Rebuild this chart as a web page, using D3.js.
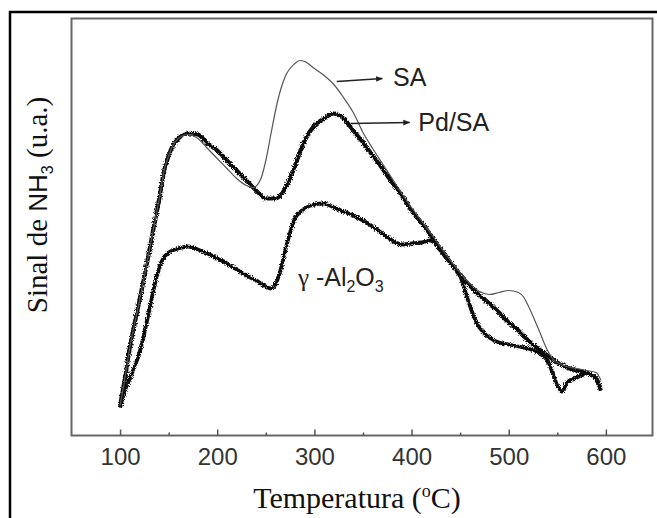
<!DOCTYPE html>
<html>
<head>
<meta charset="utf-8">
<script src="https://cdn.jsdelivr.net/npm/d3@7"></script>
<style>
  body { margin: 0; background: #fff; }
  svg { display: block; }
</style>
</head>
<body>
<svg id="chart" width="657" height="518"></svg>
<script>
// NH3-TPD curves, signal in arbitrary units (u.a.)
const W = 657, H = 518;

const majorTicks = [100, 200, 300, 400, 500, 600];
const minorTicks = [150, 250, 350, 450, 550];

// SA (thin line)
const saTemp = [100, 105, 110, 115, 125, 135, 140, 145, 150, 160, 170, 180, 190, 200, 210, 220, 230, 237, 245, 250, 255, 260, 265, 270, 280, 285, 290, 300, 310, 320, 330, 340, 350, 360, 370, 380, 390, 400, 420, 440, 460, 470, 480, 490, 500, 510, 515, 520, 530, 540, 545, 550, 560, 570, 580, 590, 595];
const saSignal = [30, 57, 88, 112, 159, 210, 235, 263, 280, 297, 301, 297, 287, 277, 267, 257, 250, 248, 257, 275, 300, 325, 345, 359, 372, 375, 374, 367, 360, 351, 338, 323, 303, 287, 272, 257, 242, 228, 202, 175, 152, 144, 141, 143, 145, 143, 139, 130, 108, 85, 77, 73, 69, 67, 65, 63, 55];

// Pd/SA (thick noisy line)
const pdTemp = [100, 105, 110, 115, 125, 135, 140, 145, 150, 160, 170, 180, 190, 200, 210, 220, 230, 240, 250, 260, 270, 280, 290, 300, 310, 320, 330, 340, 350, 360, 370, 380, 390, 400, 410, 420, 430, 440, 450, 460, 470, 480, 490, 500, 510, 520, 530, 540, 550, 560, 570, 580, 590, 595];
const pdSignal = [30, 57, 88, 112, 159, 210, 235, 263, 280, 297, 302, 301, 292, 285, 275, 265, 255, 245, 237, 237, 247, 270, 295, 310, 317, 322, 317, 305, 293, 280, 267, 253, 240, 225, 213, 200, 185, 173, 160, 150, 140, 132, 123, 113, 105, 95, 87, 80, 73, 68, 65, 63, 57, 45];

// gamma-Al2O3 (thick noisy line)
const alTemp = [100, 105, 110, 120, 130, 135, 140, 145, 150, 160, 170, 180, 190, 200, 210, 220, 230, 240, 250, 255, 260, 265, 270, 275, 280, 290, 300, 310, 320, 330, 340, 350, 360, 370, 380, 390, 400, 410, 420, 430, 440, 450, 455, 460, 465, 470, 475, 480, 490, 500, 510, 520, 530, 540, 545, 550, 555, 560, 570, 580, 590, 595];
const alSignal = [28, 45, 57, 83, 125, 148, 167, 178, 183, 187, 189, 186, 182, 177, 172, 166, 160, 155, 149, 147, 151, 165, 185, 203, 217, 227, 231, 232, 228, 224, 220, 215, 209, 202, 195, 191, 192, 193, 195, 187, 173, 160, 145, 130, 117, 108, 102, 98, 93, 91, 89, 87, 83, 75, 63, 50, 44, 53, 58, 62, 57, 45];

// plot frame
const X0 = 71.5, X1 = 652.5, Y0 = 18.5, Y1 = 435.5;

const x = d3.scaleLinear().domain([50, 648]).range([X0, X1]);
const y = d3.scaleLinear().domain([0, 417]).range([Y1, Y0]);

const svg = d3.select('#chart');

// rough filter gives the jagged look of the noisy traces
const defs = svg.append('defs');
const rough = defs.append('filter').attr('id', 'rough')
  .attr('x', '-5%').attr('y', '-5%').attr('width', '110%').attr('height', '110%');
rough.append('feTurbulence')
  .attr('type', 'fractalNoise').attr('baseFrequency', 0.9)
  .attr('numOctaves', 1).attr('seed', 4).attr('result', 'n');
rough.append('feDisplacementMap')
  .attr('in', 'SourceGraphic').attr('in2', 'n')
  .attr('scale', 5).attr('xChannelSelector', 'R').attr('yChannelSelector', 'G');

defs.append('marker')
  .attr('id', 'arrow').attr('viewBox', '0 0 10 10')
  .attr('refX', 9).attr('refY', 5)
  .attr('markerWidth', 7).attr('markerHeight', 7)
  .attr('markerUnits', 'userSpaceOnUse')
  .attr('orient', 'auto')
  .append('path').attr('d', 'M0,1 L10,5 L0,9 Z').attr('fill', '#222');

// outer border (cropped)
svg.append('rect')
  .attr('x', 10).attr('y', 12).attr('width', 700).attr('height', 600)
  .attr('fill', 'none').attr('stroke', '#000').attr('stroke-width', 2.5);

// frame
svg.append('rect')
  .attr('x', X0).attr('y', Y0).attr('width', X1 - X0).attr('height', Y1 - Y0)
  .attr('fill', 'none').attr('stroke', '#666').attr('stroke-width', 2);

// axis
const xAxis = d3.axisBottom(x).tickValues(majorTicks)
  .tickSizeInner(-6).tickSizeOuter(0).tickPadding(12).tickFormat(d3.format('d'));
const gx = svg.append('g').attr('transform', `translate(0,${Y1})`).call(xAxis);
gx.select('.domain').remove();
gx.selectAll('line').attr('stroke', '#555').attr('stroke-width', 1.5);
gx.selectAll('text')
  .attr('font-family', 'Liberation Sans, Arial, sans-serif')
  .attr('font-size', 24).attr('fill', '#333');

const gm = svg.append('g').attr('transform', `translate(0,${Y1})`)
  .call(d3.axisBottom(x).tickValues(minorTicks).tickSizeInner(-3).tickSizeOuter(0).tickFormat(''));
gm.select('.domain').remove();
gm.selectAll('line').attr('stroke', '#555').attr('stroke-width', 1.5);

// curves
const line = d3.line()
  .x(d => x(d[0])).y(d => y(d[1]))
  .curve(d3.curveMonotoneX);

const zip = (a, b) => a.map((t, i) => [t, b[i]]);

svg.append('path')
  .datum(zip(alTemp, alSignal))
  .attr('d', line)
  .attr('fill', 'none').attr('stroke', '#111').attr('stroke-width', 3.8)
  .attr('filter', 'url(#rough)');

svg.append('path')
  .datum(zip(pdTemp, pdSignal))
  .attr('d', line)
  .attr('fill', 'none').attr('stroke', '#111').attr('stroke-width', 4.2)
  .attr('filter', 'url(#rough)');

svg.append('path')
  .datum(zip(saTemp, saSignal))
  .attr('d', line)
  .attr('fill', 'none').attr('stroke', '#555').attr('stroke-width', 1.2);

// annotations
const sans = 'Liberation Sans, Arial, sans-serif';
const serif = 'Liberation Serif, Times New Roman, serif';

svg.append('line')
  .attr('x1', x(323)).attr('y1', y(354)).attr('x2', x(370)).attr('y2', y(357))
  .attr('stroke', '#222').attr('stroke-width', 1.3).attr('marker-end', 'url(#arrow)');
svg.append('text')
  .attr('x', x(381)).attr('y', y(350))
  .attr('font-family', sans).attr('font-size', 25).attr('fill', '#222')
  .text('SA');

svg.append('line')
  .attr('x1', x(337)).attr('y1', y(312)).attr('x2', x(398)).attr('y2', y(313))
  .attr('stroke', '#222').attr('stroke-width', 1.3).attr('marker-end', 'url(#arrow)');
svg.append('text')
  .attr('x', x(407)).attr('y', y(305))
  .attr('font-family', sans).attr('font-size', 25).attr('fill', '#222')
  .text('Pd/SA');

const gl = svg.append('text')
  .attr('x', x(283)).attr('y', y(150))
  .attr('font-family', sans).attr('font-size', 25).attr('fill', '#222');
gl.append('tspan').attr('font-family', serif).text('γ');
gl.append('tspan').text(' -Al');
gl.append('tspan').attr('font-size', 16).attr('dy', 6).text('2');
gl.append('tspan').attr('dy', -6).text('O');
gl.append('tspan').attr('font-size', 16).attr('dy', 6).text('3');

// axis titles
const xt = svg.append('text')
  .attr('x', 357).attr('y', 508)
  .attr('text-anchor', 'middle')
  .attr('font-family', serif).attr('font-size', 30).attr('fill', '#111');
xt.append('tspan').text('Temperatura (');
xt.append('tspan').attr('font-size', 18).attr('dy', -11).text('o');
xt.append('tspan').attr('dy', 11).text('C)');

const yt = svg.append('text')
  .attr('transform', 'translate(47,205) rotate(-90)')
  .attr('text-anchor', 'middle')
  .attr('font-family', serif).attr('font-size', 29).attr('fill', '#111');
yt.append('tspan').text('Sinal de ');
yt.append('tspan').attr('font-family', sans).attr('font-size', 26).text('NH');
yt.append('tspan').attr('font-family', sans).attr('font-size', 16).attr('dy', 6).text('3');
yt.append('tspan').attr('dy', -6).text(' (u.a.)');
</script>
</body>
</html>
